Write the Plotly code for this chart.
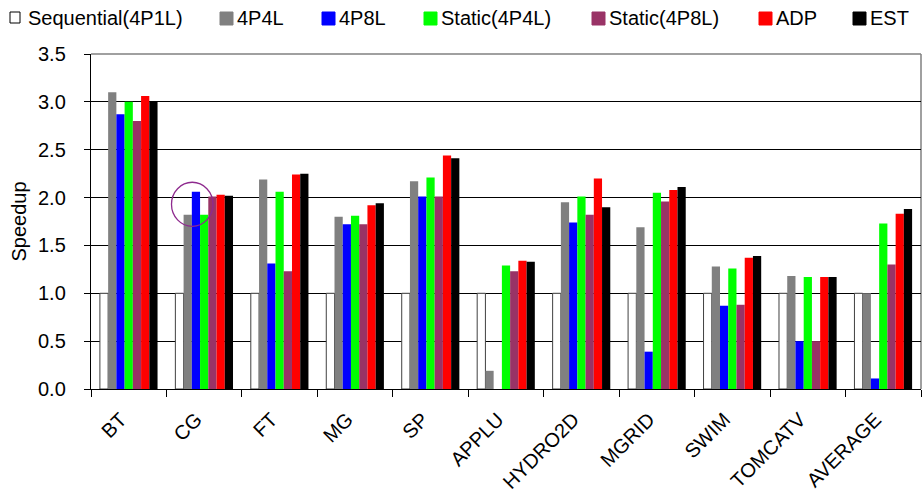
import plotly.graph_objects as go

# Benchmarks and speedup of each execution configuration
categories = ["BT", "CG", "FT", "MG", "SP", "APPLU", "HYDRO2D", "MGRID",
              "SWIM", "TOMCATV", "AVERAGE"]

sequential_4p1l = [1.0, 1.0, 1.0, 1.0, 1.0, 1.0, 1.0, 1.0, 1.0, 1.0, 1.0]
speedup_4p4l = [3.10, 1.82, 2.19, 1.80, 2.17, 0.19, 1.95, 1.69, 1.28, 1.18, 1.00]
speedup_4p8l = [2.87, 2.06, 1.31, 1.72, 2.01, 0.00, 1.74, 0.39, 0.87, 0.50, 0.11]
static_4p4l = [3.00, 1.82, 2.06, 1.81, 2.21, 1.29, 2.01, 2.05, 1.26, 1.17, 1.73]
static_4p8l = [2.80, 2.01, 1.23, 1.72, 2.01, 1.23, 1.82, 1.96, 0.88, 0.50, 1.30]
speedup_adp = [3.06, 2.03, 2.24, 1.92, 2.44, 1.34, 2.20, 2.08, 1.37, 1.17, 1.83]
speedup_est = [3.00, 2.02, 2.25, 1.94, 2.41, 1.33, 1.90, 2.11, 1.39, 1.17, 1.88]

series_names = ["Sequential(4P1L)", "4P4L", "4P8L", "Static(4P4L)",
                "Static(4P8L)", "ADP", "EST"]
series_values = [sequential_4p1l, speedup_4p4l, speedup_4p8l, static_4p4l,
                 static_4p8l, speedup_adp, speedup_est]
series_colors = ["#FFFFFF", "#808080", "#0000FF", "#00FF00", "#993366",
                 "#FF0000", "#000000"]

y_ticks = [0.0, 0.5, 1.0, 1.5, 2.0, 2.5, 3.0, 3.5]
y_title = "Speedup"

FONT = "Arial, Liberation Sans, sans-serif"
W, H = 923, 492
PLOT_L, PLOT_R, PLOT_T, PLOT_B = 91, 921, 54, 389
BARGAP = 0.236


def px_x(px):
    return (px - PLOT_L) / (PLOT_R - PLOT_L)


def px_y(py):
    return (PLOT_B - py) / (PLOT_B - PLOT_T)


fig = go.Figure()
for name, vals, color in zip(series_names, series_values, series_colors):
    hollow = color == "#FFFFFF"
    fig.add_trace(go.Bar(
        x=categories, y=vals, name=name, showlegend=False,
        marker=dict(color=color,
                    line=dict(color="#404040" if hollow else color,
                              width=1 if hollow else 0)),
    ))

shapes = []
annotations = []

# Legend row along the top: swatch followed by its label
legend_swatch_left = [10, 220, 322, 424, 592, 759, 853]
for i, (name, color) in enumerate(zip(series_names, series_colors)):
    hollow = color == "#FFFFFF"
    left = legend_swatch_left[i]
    w_sw = 10 if hollow else 13
    h_sw = 11 if hollow else 13
    top = 12
    shapes.append(dict(
        type="rect", xref="paper", yref="paper",
        x0=px_x(left), x1=px_x(left + w_sw),
        y0=px_y(top + h_sw), y1=px_y(top),
        fillcolor=color,
        line=dict(color="#000000" if hollow else color, width=1),
    ))
    annotations.append(dict(
        xref="paper", yref="paper", x=px_x(left + (16 if hollow else 15)),
        y=px_y(18), xanchor="left", yanchor="middle", showarrow=False,
        text=name, font=dict(family=FONT, size=20, color="#000000"),
    ))

# Value labels of the y axis, set well clear of the tick marks
for v in y_ticks:
    annotations.append(dict(
        xref="paper", yref="y", x=px_x(68), y=v, xanchor="right", yanchor="middle",
        showarrow=False, text=f"{v:.1f}", font=dict(family=FONT, size=20, color="#000000"),
    ))

# Rotated y-axis title
annotations.append(dict(
    xref="paper", yref="paper", x=px_x(18), y=0.5, xanchor="center", yanchor="middle",
    showarrow=False, textangle=-90, text=y_title,
    font=dict(family=FONT, size=20, color="#000000"),
))

# Gray frame on the top and right of the plot area
shapes.append(dict(type="line", xref="paper", yref="paper", x0=0, x1=1, y0=1, y1=1,
                   line=dict(color="#808080", width=1.5), layer="below"))
shapes.append(dict(type="line", xref="paper", yref="paper", x0=1, x1=1, y0=0, y1=1,
                   line=dict(color="#808080", width=1.5), layer="below"))

# Circle highlighting the CG 4P8L bar
cg = categories.index("CG")
bar_w = (1 - BARGAP) / len(series_names)
cx = cg - 1.45 * bar_w
cy = speedup_4p8l[cg] - 0.13
rx, ry = 0.275, 0.23
shapes.append(dict(type="circle", xref="x", yref="y",
                   x0=cx - rx, x1=cx + rx, y0=cy - ry, y1=cy + ry,
                   line=dict(color="#8E2A8E", width=1.3)))

fig.update_layout(
    width=W, height=H,
    margin=dict(l=PLOT_L, r=W - PLOT_R, t=PLOT_T, b=H - PLOT_B),
    paper_bgcolor="#FFFFFF", plot_bgcolor="#FFFFFF",
    barmode="group", bargap=BARGAP, bargroupgap=0,
    font=dict(family=FONT, size=18, color="#000000"),
    shapes=shapes, annotations=annotations,
    xaxis=dict(
        type="category", tickangle=-45, tickfont=dict(family=FONT, size=20),
        ticklabelstandoff=10, ticklabelshift=-8, automargin=False,
        showline=True, linecolor="#000000", linewidth=1,
        ticks="outside", tickson="boundaries", ticklen=7, tickcolor="#000000",
        showgrid=False, zeroline=False,
    ),
    yaxis=dict(
        range=[0, 3.5], tickvals=y_ticks, showticklabels=False,
        automargin=False,
        showline=True, linecolor="#000000", linewidth=1,
        ticks="outside", ticklen=6, tickcolor="#000000",
        showgrid=True, gridcolor="#000000", gridwidth=1,
        zeroline=False,
    ),
)

fig.write_html("out.html")
